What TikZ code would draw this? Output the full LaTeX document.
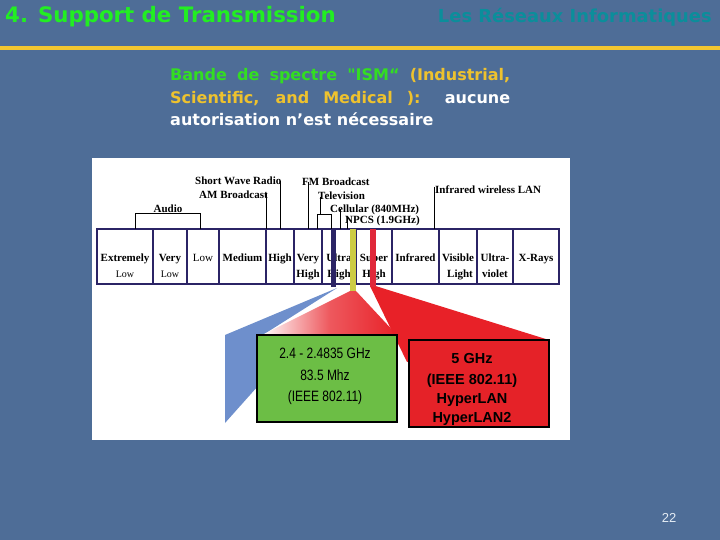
\documentclass[tikz,border=0pt]{standalone}
\usepackage{fontspec}
\setmainfont{Liberation Serif}
\newfontfamily\dejavu[Ligatures=TeXOff]{DejaVu Sans}
\newfontfamily\arialf{Liberation Sans}
\newfontfamily\arialn[FakeStretch=0.8]{Liberation Sans}
\definecolor{slidebg}{HTML}{4E6D97}
\definecolor{goldline}{HTML}{F2C630}
\definecolor{titlegreen}{HTML}{22EE22}
\definecolor{titleteal}{HTML}{0B8E9B}
\definecolor{ismgreen}{HTML}{33DD22}
\definecolor{ismgold}{HTML}{EEC22E}
\definecolor{cellnavy}{HTML}{2B2465}
\definecolor{baryellow}{HTML}{CCCC44}
\definecolor{barred}{HTML}{E0283A}
\definecolor{fanblue}{HTML}{6E8FCC}
\definecolor{fanred}{HTML}{E82128}
\definecolor{boxgreen}{HTML}{6CBE45}
\definecolor{boxred}{HTML}{E52228}
\definecolor{pagenum}{HTML}{E4ECF4}
\begin{document}
\begin{tikzpicture}[x=1pt,y=-1pt,
  lbl/.style={font=\fontsize{11}{12}\selectfont\bfseries, inner sep=0pt, anchor=base west},
  celltxt/.style={font=\fontsize{11}{12}\selectfont\bfseries, inner sep=0pt, anchor=base},
  cellline/.style={draw=cellnavy, line width=1.3pt},
  tick/.style={draw=black, line width=1pt},
  bodyline/.style={font=\dejavu\bfseries\fontsize{16}{19}\selectfont, inner sep=0pt, anchor=base west},
  gtxt/.style={font=\arialn\fontsize{15}{17}\selectfont, inner sep=0pt, anchor=base},
  rtxt/.style={font=\arialf\bfseries\fontsize{14.5}{17}\selectfont, inner sep=0pt, anchor=base},
  boxframe/.style={draw=black, line width=1.4pt}]
\useasboundingbox (0,0) rectangle (720,540);
\fill[slidebg] (0,0) rectangle (720,540);
\fill[goldline] (0,46.5) rectangle (720,50.5);
% titles
\node[anchor=base west, inner sep=0pt, text=titlegreen, font=\dejavu\bfseries\fontsize{21.3}{24}\selectfont] (title) at (5,23) {4. Support de Transmission};
\node[anchor=base east, inner sep=0pt, text=titleteal, font=\dejavu\bfseries\fontsize{17.9}{21}\selectfont] (course) at (712,23) {Les Réseaux Informatiques};
% body text
\node[bodyline] (body1) at (170,80.5) {\makebox[340pt][s]{\color{ismgreen}Bande de spectre "ISM“ \color{ismgold}(Industrial,}};
\node[bodyline] (body2) at (170,103.5) {\makebox[340pt][s]{\color{ismgold}Scientific, and Medical ): \color{white}aucune}};
\node[bodyline, text=white] (body3) at (170,126) {autorisation n’est nécessaire};
% white panel
\fill[white] (92,158) rectangle (570,440);
% fans
\fill[fanblue] (337,288) -- (225,335) -- (225,423) -- (258,386) -- (258,338) -- cycle;
\shade[left color=white, right color=fanred, middle color=fanred!75!white]
  (350,291) -- (356,291) -- (397,335) -- (262,335) -- cycle;
\fill[fanred] (370,286) -- (375.5,286) -- (549,340) -- (407,362) -- cycle;
% boxes
\node[boxframe, fill=boxgreen, minimum width=140pt, minimum height=87pt, inner sep=0pt] (gbox) at (327,378.5) {};
\node[boxframe, fill=boxred, minimum width=140pt, minimum height=87pt, inner sep=0pt] (rbox) at (479,383.5) {};
\node[gtxt] (g1) at (325,358) {2.4 - 2.4835 GHz};
\node[gtxt] (g2) at (325,380) {83.5 Mhz};
\node[gtxt] (g3) at (325,401) {(IEEE 802.11)};
\node[rtxt] (r1) at (472,363) {5 GHz};
\node[rtxt] (r2) at (472,384) {(IEEE 802.11)};
\node[rtxt] (r3) at (472,403) {HyperLAN};
\node[rtxt] (r4) at (472,422) {HyperLAN2};
% spectrum frame
\draw[cellline] (97,229) rectangle (559,284);
\foreach \x in {153,187,219,266,294,322,356,392,439,477,513}
  \draw[cellline] (\x,229) -- (\x,284);
% cell labels
\node[celltxt] (c1a) at (125,261) {Extremely};
\node[celltxt, font=\fontsize{10}{12}\selectfont] (c1b) at (125,277) {Low};
\node[celltxt] (c2a) at (170,261) {Very};
\node[celltxt, font=\fontsize{10}{12}\selectfont] (c2b) at (170,277) {Low};
\node[celltxt, font=\fontsize{11}{12}\selectfont] (c3a) at (203,261) {Low};
\node[celltxt] (c4a) at (242.5,261) {Medium};
\node[celltxt] (c5a) at (280,261) {High};
\node[celltxt] (c6a) at (308,261) {Very};
\node[celltxt] (c6b) at (308,277) {High};
\node[celltxt] (c7a) at (339,261) {Ultra};
\node[celltxt] (c7b) at (339,277) {High};
\node[celltxt] (c8a) at (374,261) {Super};
\node[celltxt] (c8b) at (374,277) {High};
\node[celltxt] (c9a) at (415.5,261) {Infrared};
\node[celltxt] (c10a) at (458,261) {Visible};
\node[celltxt] (c10b) at (460,277) {Light};
\node[celltxt] (c11a) at (495,261) {Ultra-};
\node[celltxt] (c11b) at (495,277) {violet};
\node[celltxt] (c12a) at (536,261) {X-Rays};
% top labels
\node[lbl] (sw) at (195,185) {Short Wave Radio};
\node[lbl] (am) at (199,199) {AM Broadcast};
\node[celltxt] (audio) at (168,212) {Audio};
\node[lbl] (fm) at (302,186) {FM Broadcast};
\node[lbl] (tv) at (318,200) {Television};
\node[lbl] (cell) at (330,212) {Cellular (840MHz)};
\node[lbl] (npcs) at (345,224) {NPCS (1.9GHz)};
\node[lbl] (irlan) at (435,194) {Infrared wireless LAN};
% label ticks
\draw[tick] (135,229) -- (135,214) -- (200,214) -- (200,229);
\draw[tick] (266,193) -- (266,229);
\draw[tick] (280,181) -- (280,229);
\draw[tick] (308,182) -- (308,229);
\draw[tick] (320,197) -- (320,215);
\draw[tick] (317,229) -- (317,215) -- (331,215) -- (331,229);
\draw[tick] (340,209) -- (340,229);
\draw[tick] (347,217) -- (347,229);
\draw[tick] (434,187) -- (434,229);
% colored band markers
\fill[cellnavy] (330.5,229) rectangle (336,287);
\fill[baryellow] (350,229) rectangle (356,291);
\fill[barred] (370,229) rectangle (375.5,287);
% page number
\node[anchor=base, inner sep=0pt, text=pagenum, font=\arialf\fontsize{13}{15}\selectfont] (pnum) at (669,522) {22};
\end{tikzpicture}
\end{document}
